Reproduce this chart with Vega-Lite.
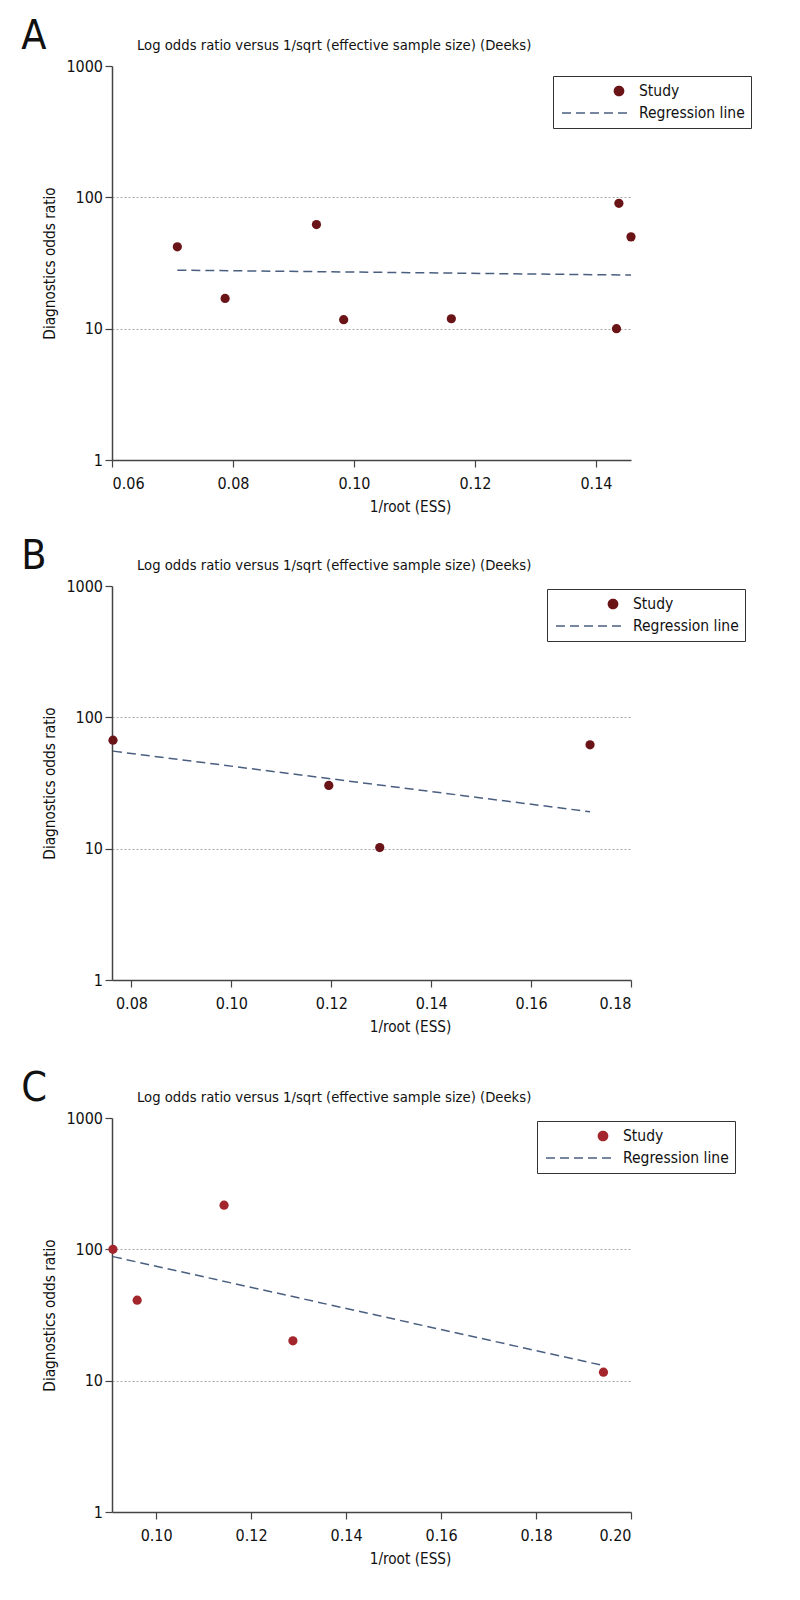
{
  "$schema": "https://vega.github.io/schema/vega-lite/v6.json",
  "background": "white",
  "padding": {"left": 21, "top": 15, "right": 5, "bottom": 5},
  "config": {
    "font": "DejaVu Sans Condensed",
    "view": {"stroke": null},
    "axis": {
      "labelFontSize": 16,
      "titleFontSize": 15.2,
      "titleFontWeight": "normal",
      "labelColor": "#111",
      "titleColor": "#111",
      "domainColor": "#444",
      "tickColor": "#444",
      "domainWidth": 1.5,
      "tickWidth": 1.2,
      "tickSize": 7
    },
    "legend": {
      "labelFontSize": 15.5,
      "labelColor": "#111",
      "strokeColor": "#333",
      "padding": 6,
      "rowPadding": 4,
      "labelOffset": -40,
      "clipHeight": 18,
      "symbolStrokeWidth": 1.5
    },
    "title": {"fontWeight": "normal", "color": "#111"}
  },
  "datasets": {
    "A": [
      {"x": 0.0708, "dor": 42, "series": "Study"},
      {"x": 0.0787, "dor": 17, "series": "Study"},
      {"x": 0.0938, "dor": 62, "series": "Study"},
      {"x": 0.0983, "dor": 11.7, "series": "Study"},
      {"x": 0.1161, "dor": 11.9, "series": "Study"},
      {"x": 0.1434, "dor": 10.0, "series": "Study"},
      {"x": 0.1438, "dor": 90, "series": "Study"},
      {"x": 0.1458, "dor": 50, "series": "Study"}
    ],
    "A_line": [
      {"x": 0.0708, "dor": 27.9, "series": "Regression line"},
      {"x": 0.1458, "dor": 25.6, "series": "Regression line"}
    ],
    "B": [
      {"x": 0.0763, "dor": 67, "series": "Study"},
      {"x": 0.1195, "dor": 30.3, "series": "Study"},
      {"x": 0.1297, "dor": 10.2, "series": "Study"},
      {"x": 0.1718, "dor": 61.8, "series": "Study"}
    ],
    "B_line": [
      {"x": 0.0763, "dor": 55.3, "series": "Regression line"},
      {"x": 0.1718, "dor": 19.1, "series": "Regression line"}
    ],
    "C": [
      {"x": 0.0909, "dor": 100, "series": "Study"},
      {"x": 0.0960, "dor": 41, "series": "Study"},
      {"x": 0.1143, "dor": 217, "series": "Study"},
      {"x": 0.1288, "dor": 20.1, "series": "Study"},
      {"x": 0.1942, "dor": 11.6, "series": "Study"}
    ],
    "C_line": [
      {"x": 0.0909, "dor": 88, "series": "Regression line"},
      {"x": 0.1939, "dor": 13.1, "series": "Regression line"}
    ]
  },
  "resolve": {"scale": {"color": "independent", "shape": "independent", "size": "independent", "strokeDash": "independent"}, "legend": {"color": "independent", "shape": "independent", "size": "independent", "strokeDash": "independent"}},
  "spacing": 20,
  "vconcat": [
    {
      "title": {"text": "A", "fontSize": 41, "anchor": "start", "frame": "bounds", "dx": -21.6, "offset": -19.5},
      "resolve": {"scale": {"color": "independent", "shape": "independent", "size": "independent", "strokeDash": "independent"}, "legend": {"color": "independent", "shape": "independent", "size": "independent", "strokeDash": "independent"}},
      "vconcat": [
        {
          "title": {"text": "Log odds ratio versus 1/sqrt (effective sample size) (Deeks)", "fontSize": 14.7, "anchor": "start", "frame": "group", "dx": 25, "offset": 5},
          "width": 519,
          "height": 394,
          "layer": [
            {
              "data": {"name": "A"},
              "mark": {"type": "point", "filled": true, "opacity": 1},
              "encoding": {
                "x": {"field": "x", "type": "quantitative", "scale": {"domain": [0.06, 0.1458], "nice": false, "zero": false},
                  "axis": {"values": [0.06, 0.08, 0.10, 0.12, 0.14], "format": ".2f", "grid": false, "title": "1/root (ESS)", "labelPadding": 8.5, "titlePadding": 8, "titleX": 298}},
                "y": {"field": "dor", "type": "quantitative", "scale": {"type": "log", "domain": [1, 1000], "nice": false},
                  "axis": {"values": [1, 10, 100, 1000], "format": "d", "grid": true, "gridDash": [2, 2], "gridColor": "#aaa",
                    "gridOpacity": {"condition": {"test": "datum.value === 10 || datum.value === 100", "value": 1}, "value": 0},
                    "labelPadding": 2.5, "title": "Diagnostics odds ratio", "titlePadding": 8}},
                "color": {"field": "series", "type": "nominal", "scale": {"domain": ["Study", "Regression line"], "range": ["#6a1417", "#4a5f80"]},
                  "legend": {"title": null, "orient": "none", "legendX": 441, "legendY": 10}},
                "shape": {"field": "series", "type": "nominal", "scale": {"domain": ["Study", "Regression line"], "range": ["circle", "M -0.962,0 L 0.186,0"]},
                  "legend": {"title": null, "orient": "none", "legendX": 441, "legendY": 10}},
                "size": {"field": "series", "type": "ordinal", "scale": {"domain": ["Study", "Regression line"], "range": [85, 14042]},
                  "legend": {"title": null, "orient": "none", "legendX": 441, "legendY": 10}}
              }
            },
            {
              "data": {"name": "A_line"},
              "mark": {"type": "line", "strokeWidth": 1.5},
              "encoding": {
                "x": {"field": "x", "type": "quantitative"},
                "y": {"field": "dor", "type": "quantitative"},
                "color": {"field": "series", "type": "nominal", "scale": {"domain": ["Study", "Regression line"], "range": ["#6a1417", "#4a5f80"]},
                  "legend": {"title": null, "orient": "none", "legendX": 441, "legendY": 10}},
                "strokeDash": {"field": "series", "type": "nominal", "scale": {"domain": ["Study", "Regression line"], "range": [[1, 0], [9, 5]]},
                  "legend": {"title": null, "orient": "none", "legendX": 441, "legendY": 10}}
              }
            }
          ]
        }
      ]
    },
    {
      "resolve": {"scale": {"color": "independent", "shape": "independent", "size": "independent", "strokeDash": "independent"}, "legend": {"color": "independent", "shape": "independent", "size": "independent", "strokeDash": "independent"}},
      "spacing": 32,
      "vconcat": [
        {
          "title": {"text": "B", "fontSize": 41, "anchor": "start", "frame": "bounds", "dx": -21.6, "offset": -19.5},
          "resolve": {"scale": {"color": "independent", "shape": "independent", "size": "independent", "strokeDash": "independent"}, "legend": {"color": "independent", "shape": "independent", "size": "independent", "strokeDash": "independent"}},
          "vconcat": [
            {
              "title": {"text": "Log odds ratio versus 1/sqrt (effective sample size) (Deeks)", "fontSize": 14.7, "anchor": "start", "frame": "group", "dx": 25, "offset": 5},
              "width": 519,
              "height": 394,
              "layer": [
                {
                  "data": {"name": "B"},
                  "mark": {"type": "point", "filled": true, "opacity": 1},
                  "encoding": {
                    "x": {"field": "x", "type": "quantitative", "scale": {"domain": [0.0761, 0.18], "nice": false, "zero": false},
                      "axis": {"values": [0.08, 0.10, 0.12, 0.14, 0.16, 0.18], "format": ".2f", "grid": false, "title": "1/root (ESS)", "labelPadding": 8.5, "titlePadding": 8, "titleX": 298}},
                    "y": {"field": "dor", "type": "quantitative", "scale": {"type": "log", "domain": [1, 1000], "nice": false},
                      "axis": {"values": [1, 10, 100, 1000], "format": "d", "grid": true, "gridDash": [2, 2], "gridColor": "#aaa",
                        "gridOpacity": {"condition": {"test": "datum.value === 10 || datum.value === 100", "value": 1}, "value": 0},
                        "labelPadding": 2.5, "title": "Diagnostics odds ratio", "titlePadding": 8}},
                    "color": {"field": "series", "type": "nominal", "scale": {"domain": ["Study", "Regression line"], "range": ["#6a1417", "#4a5f80"]},
                      "legend": {"title": null, "orient": "none", "legendX": 435, "legendY": 3}},
                    "shape": {"field": "series", "type": "nominal", "scale": {"domain": ["Study", "Regression line"], "range": ["circle", "M -0.962,0 L 0.186,0"]},
                      "legend": {"title": null, "orient": "none", "legendX": 435, "legendY": 3}},
                    "size": {"field": "series", "type": "ordinal", "scale": {"domain": ["Study", "Regression line"], "range": [85, 14042]},
                      "legend": {"title": null, "orient": "none", "legendX": 435, "legendY": 3}}
                  }
                },
                {
                  "data": {"name": "B_line"},
                  "mark": {"type": "line", "strokeWidth": 1.5},
                  "encoding": {
                    "x": {"field": "x", "type": "quantitative"},
                    "y": {"field": "dor", "type": "quantitative"},
                    "color": {"field": "series", "type": "nominal", "scale": {"domain": ["Study", "Regression line"], "range": ["#6a1417", "#4a5f80"]},
                      "legend": {"title": null, "orient": "none", "legendX": 435, "legendY": 3}},
                    "strokeDash": {"field": "series", "type": "nominal", "scale": {"domain": ["Study", "Regression line"], "range": [[1, 0], [9, 5]]},
                      "legend": {"title": null, "orient": "none", "legendX": 435, "legendY": 3}}
                  }
                }
              ]
            }
          ]
        },
        {
          "title": {"text": "C", "fontSize": 41, "anchor": "start", "frame": "bounds", "dx": -21.6, "offset": -19.5},
          "resolve": {"scale": {"color": "independent", "shape": "independent", "size": "independent", "strokeDash": "independent"}, "legend": {"color": "independent", "shape": "independent", "size": "independent", "strokeDash": "independent"}},
          "vconcat": [
            {
              "title": {"text": "Log odds ratio versus 1/sqrt (effective sample size) (Deeks)", "fontSize": 14.7, "anchor": "start", "frame": "group", "dx": 25, "offset": 5},
              "width": 519,
              "height": 394,
              "layer": [
                {
                  "data": {"name": "C"},
                  "mark": {"type": "point", "filled": true, "opacity": 1},
                  "encoding": {
                    "x": {"field": "x", "type": "quantitative", "scale": {"domain": [0.0907, 0.20], "nice": false, "zero": false},
                      "axis": {"values": [0.10, 0.12, 0.14, 0.16, 0.18, 0.20], "format": ".2f", "grid": false, "title": "1/root (ESS)", "labelPadding": 8.5, "titlePadding": 8, "titleX": 298}},
                    "y": {"field": "dor", "type": "quantitative", "scale": {"type": "log", "domain": [1, 1000], "nice": false},
                      "axis": {"values": [1, 10, 100, 1000], "format": "d", "grid": true, "gridDash": [2, 2], "gridColor": "#aaa",
                        "gridOpacity": {"condition": {"test": "datum.value === 10 || datum.value === 100", "value": 1}, "value": 0},
                        "labelPadding": 2.5, "title": "Diagnostics odds ratio", "titlePadding": 8}},
                    "color": {"field": "series", "type": "nominal", "scale": {"domain": ["Study", "Regression line"], "range": ["#a3262c", "#4a5f80"]},
                      "legend": {"title": null, "orient": "none", "legendX": 425, "legendY": 3}},
                    "shape": {"field": "series", "type": "nominal", "scale": {"domain": ["Study", "Regression line"], "range": ["circle", "M -0.962,0 L 0.186,0"]},
                      "legend": {"title": null, "orient": "none", "legendX": 425, "legendY": 3}},
                    "size": {"field": "series", "type": "ordinal", "scale": {"domain": ["Study", "Regression line"], "range": [85, 14042]},
                      "legend": {"title": null, "orient": "none", "legendX": 425, "legendY": 3}}
                  }
                },
                {
                  "data": {"name": "C_line"},
                  "mark": {"type": "line", "strokeWidth": 1.5},
                  "encoding": {
                    "x": {"field": "x", "type": "quantitative"},
                    "y": {"field": "dor", "type": "quantitative"},
                    "color": {"field": "series", "type": "nominal", "scale": {"domain": ["Study", "Regression line"], "range": ["#a3262c", "#4a5f80"]},
                      "legend": {"title": null, "orient": "none", "legendX": 425, "legendY": 3}},
                    "strokeDash": {"field": "series", "type": "nominal", "scale": {"domain": ["Study", "Regression line"], "range": [[1, 0], [9, 5]]},
                      "legend": {"title": null, "orient": "none", "legendX": 425, "legendY": 3}}
                  }
                }
              ]
            }
          ]
        }
      ]
    }
  ]
}
